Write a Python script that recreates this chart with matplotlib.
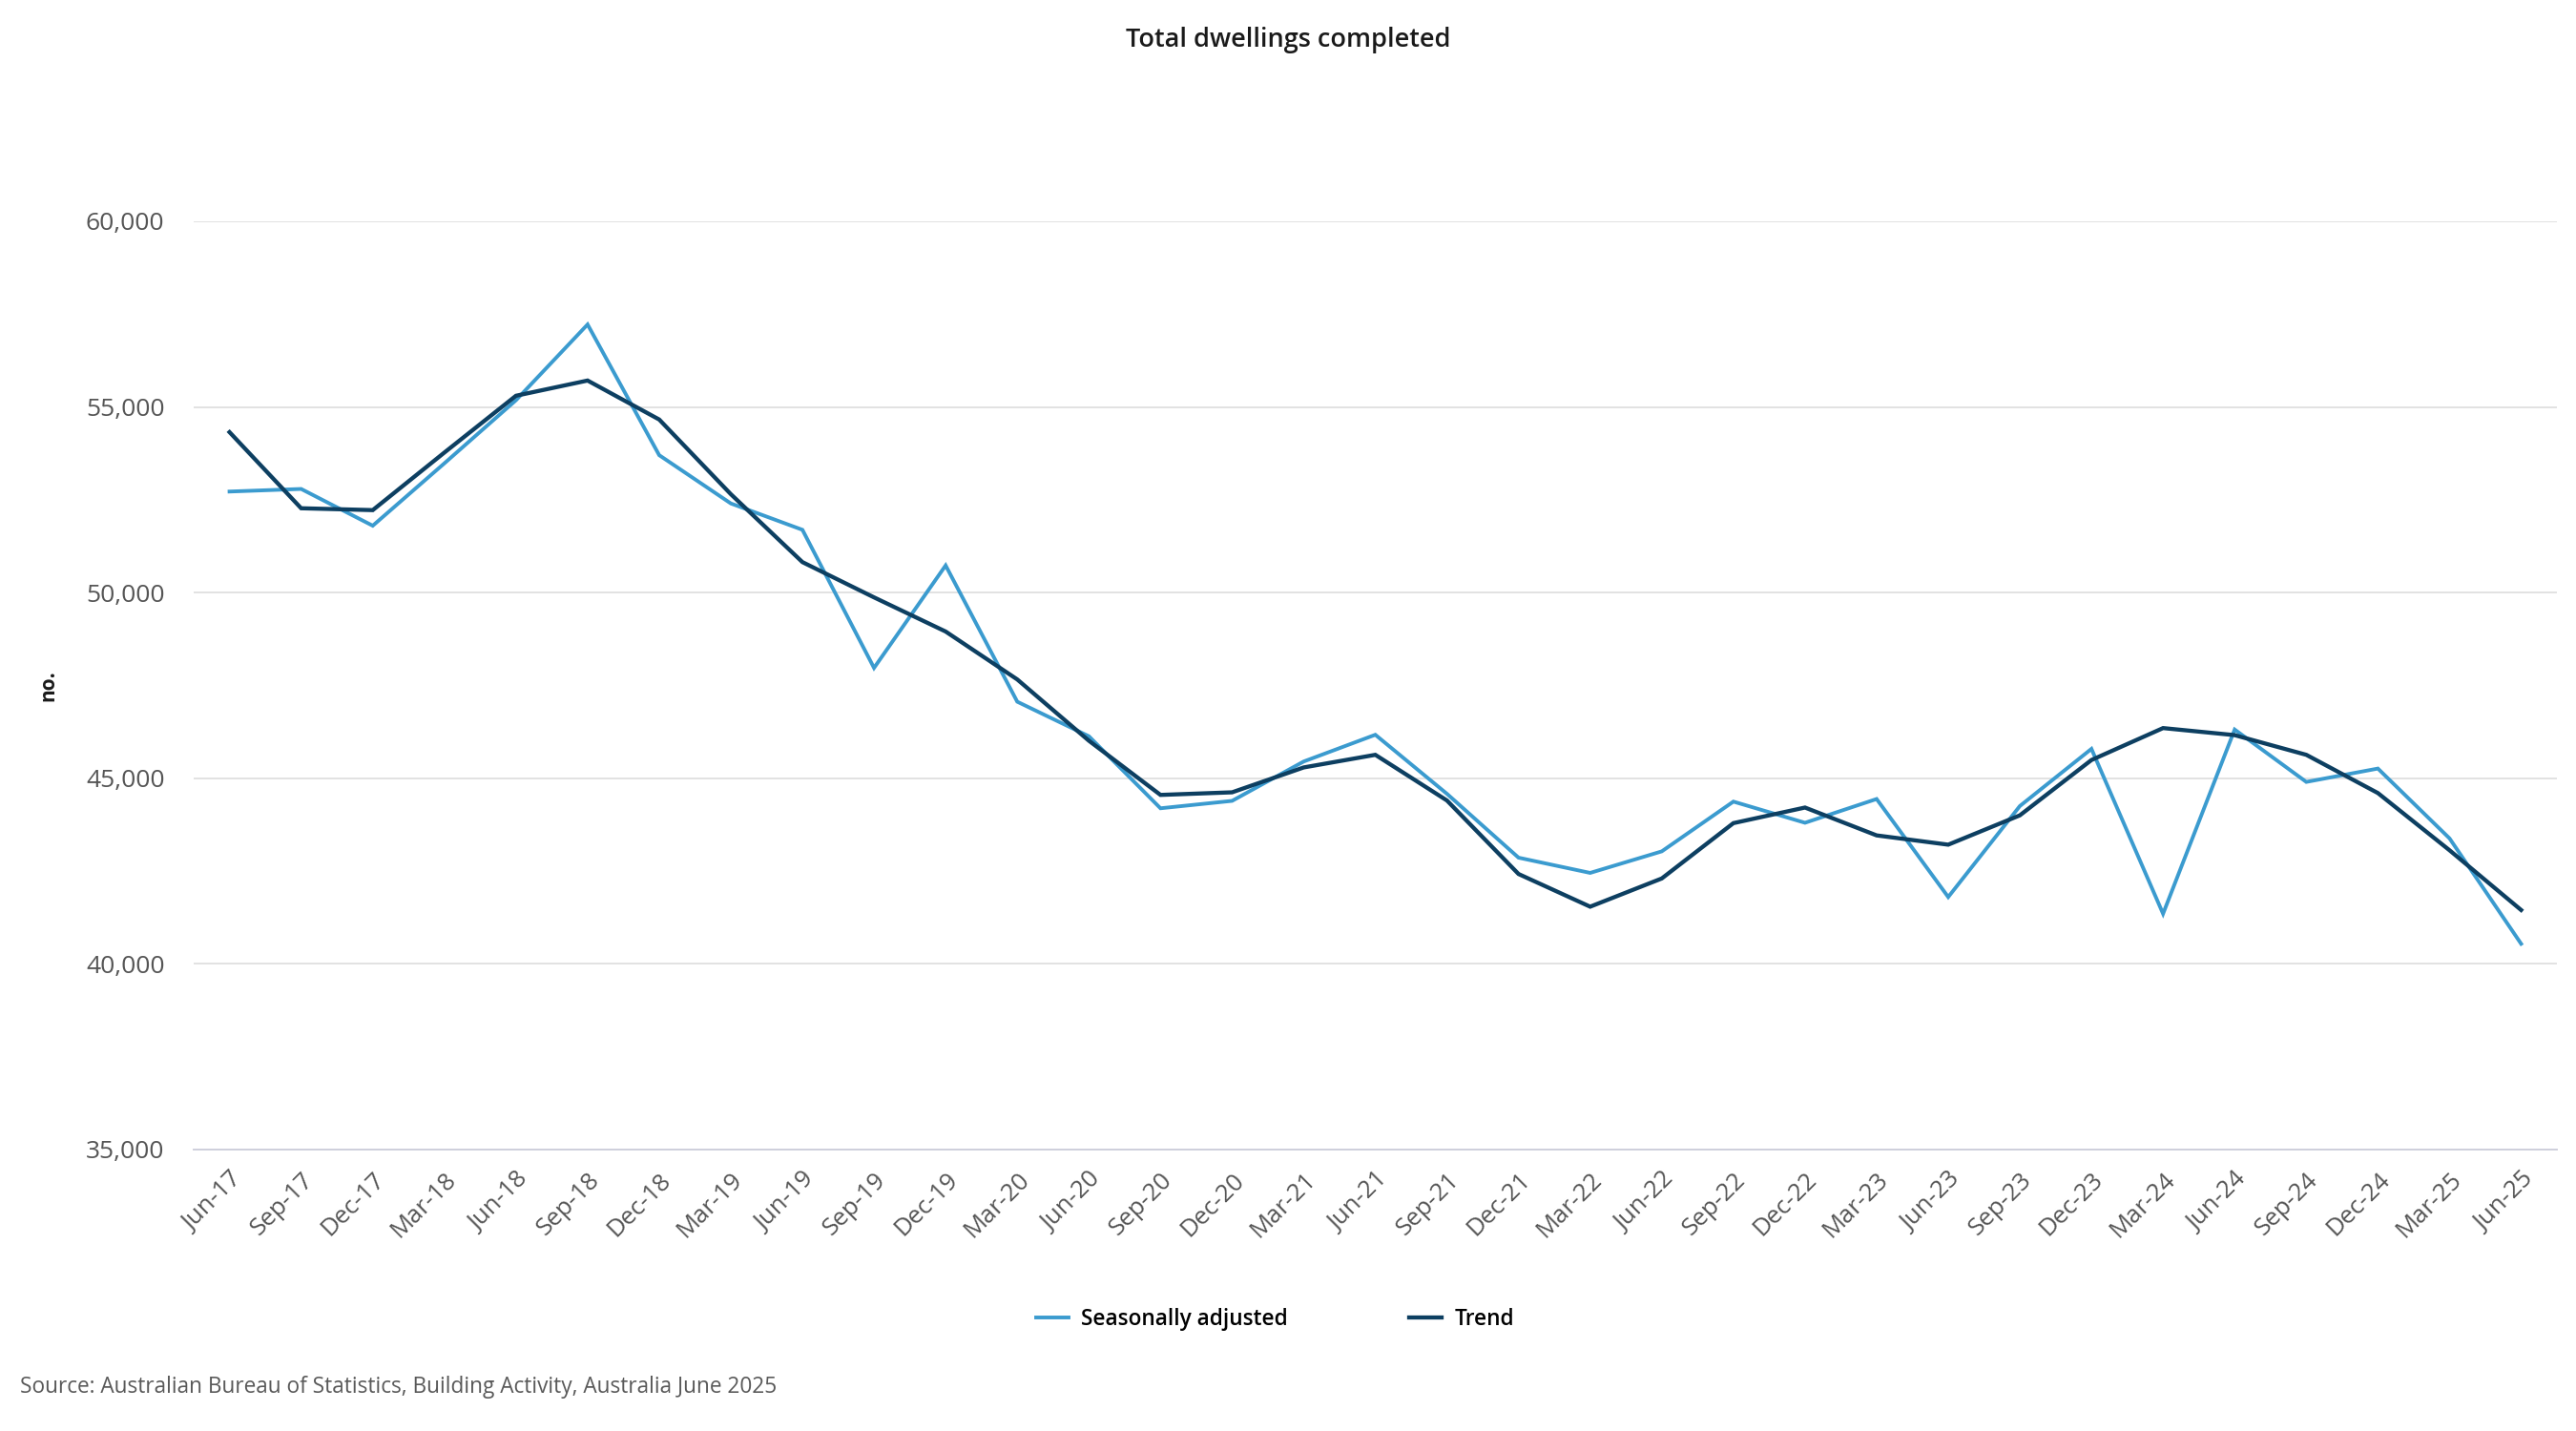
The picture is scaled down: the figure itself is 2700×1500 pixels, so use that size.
import numpy as np
import matplotlib
matplotlib.use("Agg")
import matplotlib.pyplot as plt

plt.rcParams["font.family"] = ["Open Sans", "DejaVu Sans"]

# ------------------------------------------------------------
# Data
# ------------------------------------------------------------

quarters = [
    "Jun-17", "Sep-17", "Dec-17", "Mar-18", "Jun-18", "Sep-18", "Dec-18",
    "Mar-19", "Jun-19", "Sep-19", "Dec-19", "Mar-20", "Jun-20", "Sep-20",
    "Dec-20", "Mar-21", "Jun-21", "Sep-21", "Dec-21", "Mar-22", "Jun-22",
    "Sep-22", "Dec-22", "Mar-23", "Jun-23", "Sep-23", "Dec-23", "Mar-24",
    "Jun-24", "Sep-24", "Dec-24", "Mar-25", "Jun-25",
]

seasonally_adjusted = [
    52720, 52790, 51800, 53480, 55180, 57220, 53700,
    52400, 51690, 47970, 50730, 47060, 46130, 44190,
    44390, 45450, 46170, 44580, 42860, 42450, 43030,
    44370, 43800, 44440, 41800, 44250, 45790, 41350,
    46310, 44900, 45260, 43380, 40540,
]

trend = [
    54320, 52270, 52220, 53770, 55300, 55710, 54660,
    52650, 50820, 49870, 48950, 47660, 46010, 44550,
    44620, 45290, 45630, 44400, 42420, 41540, 42300,
    43790, 44210, 43460, 43210, 44000, 45490, 46350,
    46160, 45630, 44600, 43060, 41450,
]

y_ticks = [35000, 40000, 45000, 50000, 55000, 60000]

sa_colour = "#3b9bcf"
trend_colour = "#0d3f61"

# ------------------------------------------------------------
# Figure
# ------------------------------------------------------------

fig = plt.figure(figsize=(27, 15), dpi=100)
ax = fig.add_axes([0.0752, 0.1967, 0.9174, 0.6487])

x = np.arange(len(quarters))

ax.plot(x, seasonally_adjusted, color=sa_colour, linewidth=2.8,
        label="Seasonally adjusted", solid_joinstyle="miter")
ax.plot(x, trend, color=trend_colour, linewidth=3.1,
        label="Trend", solid_joinstyle="miter")

ax.set_xlim(-0.5, len(quarters) - 0.5)
ax.set_ylim(35000, 60000)

ax.set_yticks(y_ticks)
ax.set_yticklabels([f"{v:,}" for v in y_ticks])
ax.set_xticks(x)
ax.set_xticklabels(quarters, rotation=45, ha="right", rotation_mode="anchor")

ax.tick_params(axis="y", length=0, pad=22, labelsize=19, labelcolor="#555555")
ax.tick_params(axis="x", length=0, pad=14, labelsize=18.5, labelcolor="#555555")

ax.grid(axis="y", color="#e2e2e2", linewidth=1.4)
ax.set_axisbelow(True)
for side in ["top", "right", "left"]:
    ax.spines[side].set_visible(False)
ax.spines["bottom"].set_color("#cfd0dc")
ax.spines["bottom"].set_linewidth(1.4)

fig.text(0.5, 0.972, "Total dwellings completed", ha="center", va="center",
         fontsize=19.5, fontweight="semibold", color="#1a1a1a")

fig.text(0.019, 0.521, "no.", rotation=90, ha="center", va="center",
         fontsize=15, fontweight="bold", color="#1a1a1a")

fig.legend(loc="center", bbox_to_anchor=(0.495, 0.078), ncol=2, frameon=False,
           handlelength=1.5, handletextpad=0.6, columnspacing=5.6,
           prop={"weight": "semibold", "size": 16.3})

fig.text(0.0078, 0.031, "Source: Australian Bureau of Statistics, Building Activity, Australia June 2025",
         ha="left", va="center", fontsize=16.3, color="#595959")

fig.savefig("out.png", dpi=100)
